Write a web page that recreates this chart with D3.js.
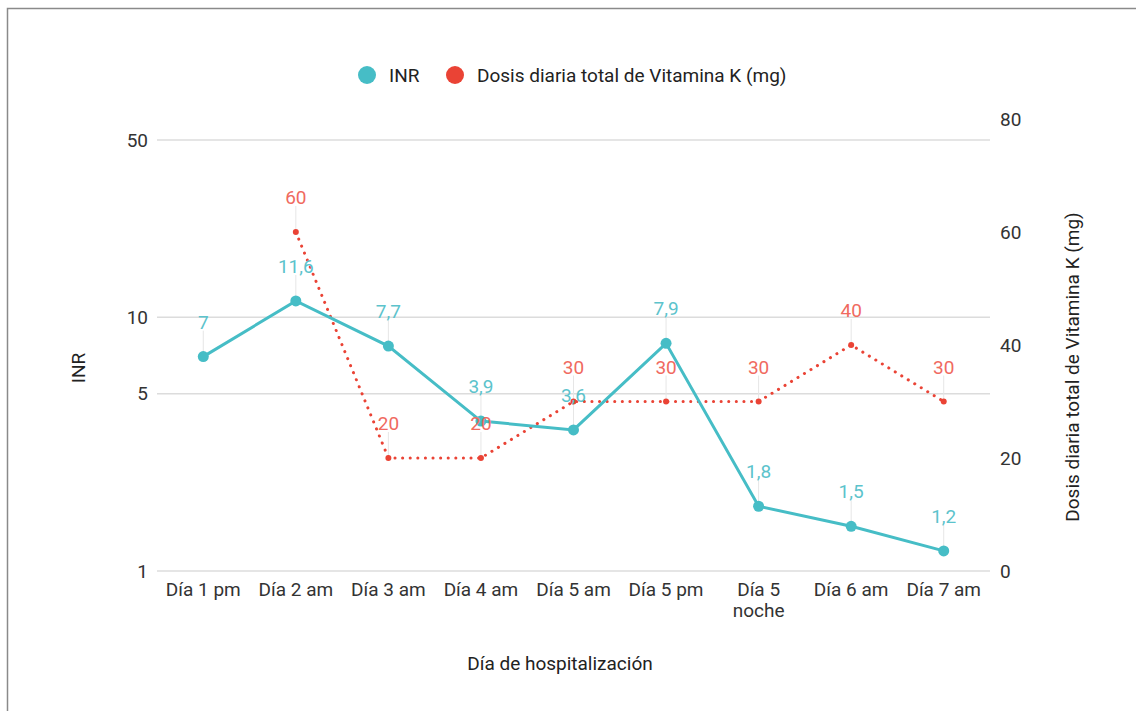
<!DOCTYPE html>
<html>
<head>
<meta charset="utf-8">
<script src="https://cdn.jsdelivr.net/npm/d3@7"></script>
<style>
  body { margin: 0; background: #fff; }
  text { font-family: Roboto, "Noto Sans", sans-serif; }
</style>
</head>
<body>
<div class="chart"></div>
<script>
// data
const days = ["Día 1 pm", "Día 2 am", "Día 3 am", "Día 4 am", "Día 5 am", "Día 5 pm", "Día 5 noche", "Día 6 am", "Día 7 am"];
const inr = [7, 11.6, 7.7, 3.9, 3.6, 7.9, 1.8, 1.5, 1.2];
const vitK = [null, 60, 20, 20, 30, 30, 30, 40, 30];
const inrTicks = [1, 5, 10, 50];
const vitKTicks = [0, 20, 40, 60, 80];

const W = 1136, H = 711;
const fs = 19;
const teal = "#46bdc6", red = "#ea4335";
const fmt = v => String(v).replace(".", ",");

const svg = d3.select(".chart").append("svg")
    .attr("width", W)
    .attr("height", H);

// frame of the screenshot
svg.append("rect")
    .attr("x", 7.5).attr("y", 8.5)
    .attr("width", W + 20).attr("height", H + 20)
    .attr("fill", "none").attr("stroke", "#8a8a8a").attr("stroke-width", 1.5);

const x = d3.scaleBand().domain(days).range([157, 990]);
const yL = d3.scaleLog().domain([1, 50]).range([571, 140]);
const yR = d3.scaleLinear().domain([0, 80]).range([571, 119]);
const cx = d => x(d) + x.bandwidth() / 2;

// left axis + gridlines
const left = svg.append("g")
    .attr("class", "axis y-axis")
    .attr("transform", "translate(157,0)")
    .call(d3.axisLeft(yL).tickValues(inrTicks).tickFormat(d3.format("d")).tickSize(0).tickPadding(9));
left.select(".domain").remove();
left.selectAll("text").attr("font-size", fs).attr("fill", "#333");
svg.append("g").selectAll("line")
    .data(inrTicks)
    .enter().append("line")
    .attr("x1", 157).attr("x2", 990)
    .attr("y1", d => yL(d)).attr("y2", d => yL(d))
    .attr("stroke", "#dcdcdc").attr("stroke-width", 1.5);

// right axis
const right = svg.append("g")
    .attr("class", "axis y-axis-right")
    .attr("transform", "translate(990,0)")
    .call(d3.axisRight(yR).tickValues(vitKTicks).tickSize(0).tickPadding(10));
right.select(".domain").remove();
right.selectAll("text").attr("font-size", fs).attr("fill", "#333");

// x axis
const bottom = svg.append("g")
    .attr("class", "axis x-axis")
    .attr("transform", "translate(0,571)")
    .call(d3.axisBottom(x).tickSize(0).tickPadding(12));
bottom.select(".domain").remove();
bottom.selectAll("text")
    .attr("font-size", fs).attr("fill", "#333")
    .each(function(d) {
        const t = d3.select(this);
        if (d === "Día 5 noche") {
            t.text(null);
            t.append("tspan").attr("x", 0).attr("dy", "0.71em").text("Día 5");
            t.append("tspan").attr("x", 0).attr("dy", "1.1em").text("noche");
            t.attr("dy", null);
        }
    });

// axis titles
svg.append("text")
    .attr("transform", "translate(85,368) rotate(-90)")
    .attr("text-anchor", "middle").attr("font-size", fs).attr("fill", "#222")
    .text("INR");
svg.append("text")
    .attr("transform", "translate(1079,367) rotate(-90)")
    .attr("text-anchor", "middle").attr("font-size", fs).attr("fill", "#222")
    .text("Dosis diaria total de Vitamina K (mg)");
svg.append("text")
    .attr("x", 560).attr("y", 670)
    .attr("text-anchor", "middle").attr("font-size", fs).attr("fill", "#222")
    .text("Día de hospitalización");

// legend
const legend = svg.append("g").attr("class", "legend");
legend.append("circle").attr("cx", 367).attr("cy", 75).attr("r", 9).attr("fill", teal);
legend.append("text").attr("x", 389).attr("y", 82).attr("font-size", fs).attr("fill", "#222").text("INR");
legend.append("circle").attr("cx", 455).attr("cy", 75).attr("r", 9).attr("fill", red);
legend.append("text").attr("x", 477).attr("y", 82).attr("font-size", fs).attr("fill", "#222").text("Dosis diaria total de Vitamina K (mg)");

const inrData = days.map((d, i) => ({day: d, v: inr[i]}));
const vitData = days.map((d, i) => ({day: d, v: vitK[i]})).filter(d => d.v != null);

// leader lines
svg.append("g").selectAll("line")
    .data(inrData)
    .enter().append("line")
    .attr("x1", d => cx(d.day)).attr("x2", d => cx(d.day))
    .attr("y1", d => yL(d.v)).attr("y2", d => yL(d.v) - 26)
    .attr("stroke", "#e6e6e6").attr("stroke-width", 1);
svg.append("g").selectAll("line")
    .data(vitData)
    .enter().append("line")
    .attr("x1", d => cx(d.day)).attr("x2", d => cx(d.day))
    .attr("y1", d => yR(d.v)).attr("y2", d => yR(d.v) - 26)
    .attr("stroke", "#e6e6e6").attr("stroke-width", 1);

// vitamin K dotted line
svg.append("path")
    .datum(vitData)
    .attr("fill", "none")
    .attr("stroke", red)
    .attr("stroke-width", 3)
    .attr("stroke-linecap", "round")
    .attr("stroke-dasharray", "0.1,7.5")
    .attr("d", d3.line().x(d => cx(d.day)).y(d => yR(d.v)));
svg.append("g").selectAll("circle")
    .data(vitData)
    .enter().append("circle")
    .attr("cx", d => cx(d.day)).attr("cy", d => yR(d.v))
    .attr("r", 3).attr("fill", red);

// INR line
svg.append("path")
    .datum(inrData)
    .attr("fill", "none")
    .attr("stroke", teal)
    .attr("stroke-width", 3)
    .attr("d", d3.line().x(d => cx(d.day)).y(d => yL(d.v)));
svg.append("g").selectAll("circle")
    .data(inrData)
    .enter().append("circle")
    .attr("cx", d => cx(d.day)).attr("cy", d => yL(d.v))
    .attr("r", 5.5).attr("fill", teal);

// data labels
svg.append("g").selectAll("text")
    .data(inrData)
    .enter().append("text")
    .attr("x", d => cx(d.day)).attr("y", d => yL(d.v) - 28)
    .attr("text-anchor", "middle").attr("font-size", fs).attr("fill", "#5cc3cc")
    .text(d => fmt(d.v));
svg.append("g").selectAll("text")
    .data(vitData)
    .enter().append("text")
    .attr("x", d => cx(d.day)).attr("y", d => yR(d.v) - 28)
    .attr("text-anchor", "middle").attr("font-size", fs).attr("fill", "#f06a5f")
    .text(d => fmt(d.v));
</script>
</body>
</html>
